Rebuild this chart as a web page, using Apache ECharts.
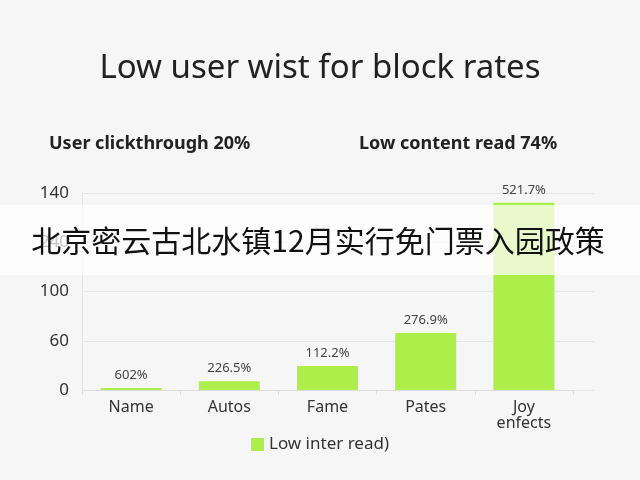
<!DOCTYPE html>
<html><head><meta charset="utf-8">
<script src="https://cdn.jsdelivr.net/npm/echarts@6/dist/echarts.min.js"></script>
<style>html,body{margin:0;padding:0;background:#f6f6f6;}#c{width:640px;height:480px;}</style>
</head><body><div id="c"></div>
<script>
const categories = ['Name', 'Autos', 'Fame', 'Pates', 'Joy\nenfects'];
const values = [1.4, 6.3, 17, 40.5, 133];
const valueLabels = ['602%', '226.5%', '112.2%', '276.9%', '521.7%'];
const yTickLabels = ['0', '60', '100', '240', '140'];
const seriesName = 'Low inter read)';
const titleText = 'Low user wist for block rates';
const subLeft = 'User clickthrough 20%';
const subRight = 'Low content read 74%';
const bannerText = '北京密云古北水镇12月实行免门票入园政策';

const chart = echarts.init(document.getElementById('c'));
const font = '"Noto Sans", "Open Sans", sans-serif';
chart.setOption({
  backgroundColor: '#f6f6f6',
  animation: false,
  textStyle: {fontFamily: font},
  title: [
    {text: titleText, left: 'center', top: 47, textStyle: {fontSize: 33, fontWeight: 'normal', color: '#222', fontFamily: font}},
    {text: subLeft, left: 44, top: 130, textStyle: {fontSize: 18, fontWeight: 'bold', color: '#222', fontFamily: font}},
    {text: subRight, left: 354, top: 130, textStyle: {fontSize: 18, fontWeight: 'bold', color: '#222', fontFamily: font}}
  ],
  legend: {
    bottom: 22, left: 'center', itemWidth: 13, itemHeight: 13, icon: 'rect', itemGap: 6,
    textStyle: {fontSize: 17, color: '#333', fontFamily: font},
    data: [seriesName]
  },
  grid: [
    {left: 82, right: 67, top: 193, bottom: 90},
    {left: 82, right: 46, top: 193, bottom: 90}
  ],
  xAxis: [
    {type: 'category', data: categories, gridIndex: 0,
     axisLine: {lineStyle: {color: '#dddddd'}},
     axisTick: {show: true, lineStyle: {color: '#dddddd'}},
     axisLabel: {fontSize: 16, color: '#333', margin: 9, lineHeight: 16, fontFamily: font}},
    {type: 'value', gridIndex: 1, show: false, min: 0, max: 1}
  ],
  yAxis: [
    {type: 'value', gridIndex: 0, min: 0, max: 140, interval: 35,
     axisLine: {show: true, lineStyle: {color: '#e4e4e4'}},
     axisTick: {show: false},
     splitLine: {show: false},
     axisLabel: {fontSize: 17, color: '#333', margin: 13, fontFamily: font,
       formatter: v => yTickLabels[Math.round(v / 35)]}},
    {type: 'value', gridIndex: 1, min: 0, max: 140, interval: 35,
     axisLine: {show: false}, axisTick: {show: false}, axisLabel: {show: false},
     splitLine: {show: true, lineStyle: {color: '#e6e6e6'}}}
  ],
  series: [{
    name: seriesName, type: 'bar', xAxisIndex: 0, yAxisIndex: 0,
    data: values, barWidth: 61,
    itemStyle: {color: '#acee4a'},
    label: {show: true, position: 'top', distance: 6, fontSize: 13, color: '#444', fontFamily: font,
      formatter: p => valueLabels[p.dataIndex]}
  }],
  graphic: [
    {type: 'rect', shape: {x: 0, y: 205, width: 640, height: 70}, style: {fill: 'rgba(255,255,255,0.72)'}, z: 100},
    {type: 'text', x: 318, y: 241, style: {text: bannerText, fontSize: 30, fill: '#111', align: 'center', verticalAlign: 'middle', fontFamily: '"Noto Sans CJK SC", sans-serif'}, z: 101}
  ]
});
</script></body></html>
